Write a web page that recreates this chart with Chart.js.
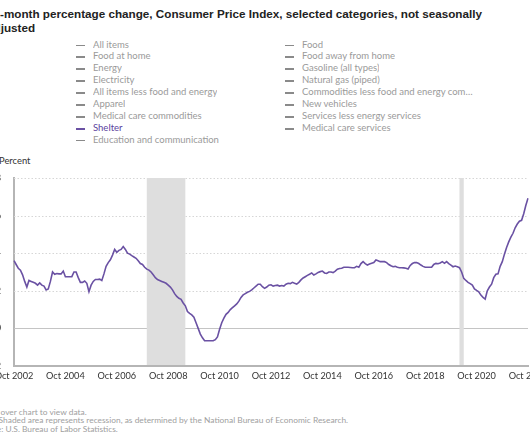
<!DOCTYPE html>
<html>
<head>
<meta charset="utf-8">
<script src="https://cdn.jsdelivr.net/npm/chart.js@4/dist/chart.umd.min.js"></script>
<style>
  html, body { margin:0; padding:0; background:#fff; }
  body { width:530px; height:442px; overflow:hidden; position:relative; }
  #title { position:absolute; left:-13px; top:7px; font:bold 11.7px "Liberation Sans", Arial, sans-serif; line-height:14px; color:#222; white-space:nowrap; }
  #legend { position:absolute; left:0; top:0; font-family:Lato, sans-serif; font-size:9.5px; color:#9a9a9a; }
  .li { position:absolute; white-space:nowrap; height:12px; line-height:12px; }
  .li .sym { position:absolute; left:0; top:6px; width:9px; height:1.5px; background:#8a8a8a; }
  .li .txt { position:absolute; left:17px; top:0; overflow:hidden; text-overflow:ellipsis; }
  #ytitle { position:absolute; left:-1px; top:155px; font:9.4px Lato, sans-serif; color:#333; }
  #wrap { position:absolute; left:-40px; top:150px; width:570px; height:240px; }
  #notes { position:absolute; left:-24px; top:407.5px; font:8.4px Lato, sans-serif; color:#a0a0a0; line-height:8.8px; white-space:nowrap; }
</style>
</head>
<body>
<div id="title"></div>
<div id="legend"></div>
<div id="ytitle"></div>
<div id="wrap"><canvas id="c"></canvas></div>
<div id="notes"></div>
<script>
// ---- data ----
const titleLines = ["12-month percentage change, Consumer Price Index, selected categories, not seasonally", "adjusted"];
const seriesNames = ["All items", "Food", "Food at home", "Food away from home", "Energy", "Gasoline (all types)",
  "Electricity", "Natural gas (piped)", "All items less food and energy", "Commodities less food and energy commodities",
  "Apparel", "New vehicles", "Medical care commodities", "Services less energy services", "Shelter",
  "Medical care services", "Education and communication"];
const shownSeries = "Shelter";
const yAxisTitle = "Percent";
const notes = ["Hover over chart to view data.",
  "Note: Shaded area represents recession, as determined by the National Bureau of Economic Research.",
  "Source: U.S. Bureau of Labor Statistics."];

const months = ["Jan","Feb","Mar","Apr","May","Jun","Jul","Aug","Sep","Oct","Nov","Dec"];
const categories = [];
for (let y = 2002; y <= 2022; y++) for (let m = 0; m < 12; m++) {
  if ((y === 2002 && m < 9) || (y === 2022 && m > 9)) continue;
  categories.push(months[m] + " " + y);
}
const tickLabels = ["Oct 2002","Oct 2004","Oct 2006","Oct 2008","Oct 2010","Oct 2012","Oct 2014","Oct 2016","Oct 2018","Oct 2020","Oct 2022"];
const yTicks = [-2, 0, 2, 4, 6, 8];
const recessions = [["Dec 2007", "Jun 2009"], ["Feb 2020", "Apr 2020"]];

const shelter = [
  3.6, 3.4, 3.2,
  3.1, 2.85, 2.5, 2.2, 2.55, 2.5, 2.45, 2.4, 2.3, 2.42, 2.3, 2.25,
  2.05, 2.1, 2.5, 3.0, 2.88, 2.92, 2.9, 2.9, 3.05, 2.75, 2.75, 2.75,
  2.75, 3.0, 3.0, 2.7, 2.45, 2.45, 2.52, 2.4, 1.95, 2.3, 2.5, 2.6,
  2.6, 2.62, 2.55, 2.9, 3.3, 3.5, 3.65, 3.9, 4.2, 4.05, 4.15, 4.2,
  4.35, 4.2, 4.0, 3.95, 3.87, 3.8, 3.73, 3.6, 3.45, 3.4, 3.25, 3.15,
  3.1, 3.0, 2.85, 2.7, 2.6, 2.55, 2.5, 2.45, 2.4, 2.3, 2.2, 2.05,
  1.85, 1.7, 1.6, 1.55, 1.35, 1.2, 0.9, 0.8, 0.72, 0.6, 0.3, 0.0,
  -0.3, -0.5, -0.65, -0.66, -0.66, -0.66, -0.66, -0.6, -0.45, -0.05, 0.3, 0.55,
  0.75, 0.85, 1.0, 1.1, 1.2, 1.3, 1.45, 1.65, 1.78, 1.85, 1.92, 1.97,
  2.05, 2.15, 2.25, 2.35, 2.35, 2.22, 2.13, 2.2, 2.3, 2.32, 2.25, 2.28,
  2.3, 2.25, 2.28, 2.25, 2.35, 2.4, 2.38, 2.45, 2.4, 2.36, 2.45, 2.58,
  2.68, 2.75, 2.82, 2.88, 2.95, 2.84, 2.9, 2.98, 3.02, 3.05, 2.95, 2.93,
  3.0, 3.0, 2.97, 3.05, 3.15, 3.19, 3.2, 3.25, 3.25, 3.25, 3.24, 3.23,
  3.23, 3.3, 3.25, 3.45, 3.55, 3.45, 3.37, 3.42, 3.46, 3.5, 3.64, 3.6,
  3.55, 3.55, 3.55, 3.5, 3.4, 3.33, 3.28, 3.3, 3.25, 3.23, 3.23, 3.22,
  3.2, 3.16, 3.35, 3.45, 3.5, 3.5, 3.45, 3.37, 3.3, 3.25, 3.25, 3.25,
  3.25, 3.4, 3.46, 3.44, 3.48, 3.55, 3.46, 3.55, 3.45, 3.37, 3.28, 3.32,
  3.28, 3.23, 3.0, 2.66, 2.55, 2.45, 2.38, 2.3, 2.1, 2.02, 1.95, 1.77,
  1.65, 1.56, 2.0, 2.2, 2.35, 2.7, 2.88, 2.9, 3.3, 3.55, 3.95, 4.3,
  4.6, 4.85, 5.06, 5.35, 5.55, 5.7, 5.75, 6.1, 6.55, 6.92
];

// ---- text blocks ----
document.getElementById('title').innerHTML = titleLines.join('<br>');
document.getElementById('ytitle').textContent = yAxisTitle;
document.getElementById('notes').innerHTML = notes.map(s => '<div>' + s + '</div>').join('');
const lg = document.getElementById('legend');
seriesNames.forEach((name, i) => {
  const col = i % 2, row = Math.floor(i / 2);
  const d = document.createElement('div');
  d.className = 'li';
  d.style.left = (col ? 285 : 76) + 'px';
  d.style.top = (38.5 + row * 11.93) + 'px';
  const on = name === shownSeries;
  d.innerHTML = '<span class="sym" style="background:' + (on ? '#6a51a3' : '#8a8a8a') + '"></span>' +
    '<span class="txt" style="max-width:' + (col ? 174 : 200) + 'px;color:' + (on ? '#5b3f9e' : '#9a9a9a') + '">' + name + '</span>';
  lg.appendChild(d);
});

// ---- chart ----
const bgPlugin = {
  id: 'bg',
  beforeDatasetsDraw(chart) {
    const { ctx, chartArea: a, scales: { x, y } } = chart;
    ctx.save();
    yTicks.forEach(v => {
      if (v === yTicks[0]) return;
      const py = Math.round(y.getPixelForValue(v)) + 0.5;
      ctx.beginPath();
      ctx.lineWidth = 1;
      if (v === 0) { ctx.setLineDash([]); ctx.strokeStyle = '#c4c4c4'; }
      else { ctx.setLineDash([1.5, 2]); ctx.strokeStyle = '#d6d6d6'; }
      ctx.moveTo(a.left, py); ctx.lineTo(a.right, py); ctx.stroke();
    });
    ctx.setLineDash([]);
    ctx.fillStyle = '#dedede';
    recessions.forEach(([s, e]) => {
      const x0 = x.getPixelForValue(categories.indexOf(s));
      const x1 = x.getPixelForValue(categories.indexOf(e));
      ctx.fillRect(x0, a.top, x1 - x0, a.bottom - a.top - 1);
    });
    ctx.restore();
  }
};

new Chart(document.getElementById('c'), {
  type: 'line',
  data: {
    labels: categories,
    datasets: [{ label: shownSeries, data: shelter, borderColor: '#6a51a3', borderWidth: 1.6, pointRadius: 0, tension: 0, fill: false }]
  },
  options: {
    responsive: true, maintainAspectRatio: false, animation: false,
    layout: { padding: { top: 28, right: 2, left: 0, bottom: 0 } },
    plugins: { legend: { display: false }, tooltip: { enabled: false } },
    scales: {
      x: {
        type: 'category', offset: false,
        grid: { display: false, drawTicks: false },
        border: { display: true, color: '#b5b5b5', width: 2 },
        ticks: {
          autoSkip: false, maxRotation: 0, minRotation: 0, padding: 5, color: '#333',
          font: { family: 'Lato', size: 9.2 },
          callback: (v, i) => tickLabels.includes(categories[i]) ? categories[i] : null
        },
        afterFit: s => { s.height = 24; s.paddingLeft = 0; s.paddingRight = 0; }
      },
      y: {
        min: yTicks[0], max: yTicks[yTicks.length - 1],
        afterBuildTicks: s => { s.ticks = yTicks.map(v => ({ value: v })); },
        grid: { display: false, drawTicks: false },
        border: { display: true, color: '#b5b5b5', width: 2 },
        ticks: { padding: 13, color: '#333', font: { family: 'Lato', size: 9.2 } },
        afterFit: s => { s.width = 54; s.paddingTop = 0; s.paddingBottom = 0; }
      }
    }
  },
  plugins: [bgPlugin]
});
</script>
</body>
</html>
